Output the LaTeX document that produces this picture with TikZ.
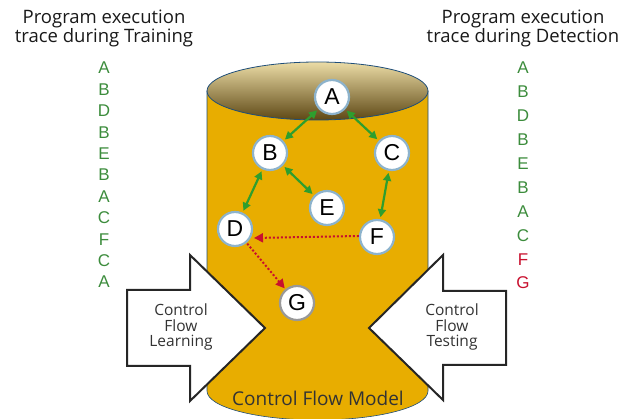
\documentclass[tikz,border=0pt]{standalone}
\usepackage{fontspec}
\setmainfont{Open Sans}
\newfontfamily\arialfont{Liberation Sans}
\usetikzlibrary{arrows.meta,shapes.geometric}
\definecolor{gold}{HTML}{E8AD00}
\definecolor{capTop}{HTML}{EBDCA6}
\definecolor{capBot}{HTML}{5E4815}
\definecolor{edgeblue}{HTML}{1F4E79}
\definecolor{nodeblue}{HTML}{8DB3CC}
\definecolor{tgreen}{HTML}{3C8C3C}
\definecolor{agreen}{HTML}{2E9E2E}
\definecolor{tred}{HTML}{C8102E}
\definecolor{txt}{HTML}{333333}
\begin{document}
\begin{tikzpicture}[x=1pt,y=-1pt,
  gnode/.style={circle,draw=nodeblue,line width=2.2pt,fill=white,minimum size=34pt,inner sep=0pt,font=\arialfont\fontsize{23}{23}\selectfont},
  garrow/.style={agreen,line width=2.2pt,{Triangle[length=8pt,width=8pt]}-{Triangle[length=8pt,width=8pt]},shorten <=2pt,shorten >=2pt},
  rarrow/.style={tred,line width=2pt,dotted,-{Triangle[length=9pt,width=9pt]},shorten >=1pt},
  bigarrow/.style={draw=black!85,line width=2pt,fill=white,line join=miter},
  title/.style={font=\fontsize{18.5}{19.5}\selectfont,align=center,text=black!90},
  trace/.style={font=\arialfont\fontsize{17}{17}\selectfont,inner sep=0pt},
  atext/.style={font=\fontsize{15.5}{15.7}\selectfont,align=center,text=txt}]
\useasboundingbox (0,0) rectangle (638,419);
% cylinder body
\fill[gold] (207,91) -- (207,391) arc[start angle=180,end angle=0,x radius=110.5,y radius=29] -- (428,91) -- cycle;
\draw[edgeblue,line width=0.6pt] (207,91) -- (207,391) arc[start angle=180,end angle=0,x radius=110.5,y radius=29] -- (428,91);
% top cap
\shade[top color=capTop,bottom color=capBot,draw=edgeblue,line width=0.8pt] (317.5,91) ellipse[x radius=110.5,y radius=29];
% nodes
\node[gnode] (A) at (332,97) {A};
\node[gnode] (B) at (270,153) {B};
\node[gnode] (C) at (392,153) {C};
\node[gnode] (E) at (327,208) {E};
\node[gnode] (D) at (235,229) {D};
\node[gnode] (F) at (377,237) {F};
\node[gnode,draw=black!40] (G) at (297,303) {G};
% green arrows
\draw[garrow] (A) -- (B);
\draw[garrow] (A) -- (C);
\draw[garrow] (B) -- (D);
\draw[garrow] (B) -- (E);
\draw[garrow] (C) -- (F);
% red dotted
\coordinate (Fw) at ([yshift=1pt]F.west);
\coordinate (Dhit) at (253,238);
\draw[rarrow] (Fw) -- (Dhit);
\draw[rarrow,shorten <=1pt] (D) -- (G);
% big arrows
\draw[bigarrow] (127,290) -- (190,290) -- (190,255) -- (265,328) -- (190,401) -- (190,366) -- (127,366) -- cycle;
\draw[bigarrow] (506,291) -- (443,291) -- (443,255) -- (369,328) -- (443,400) -- (443,365) -- (506,365) -- cycle;
\node[atext] (learn) at (181,327) {Control\\Flow\\Learning};
\node[atext] (test) at (452,327) {Control\\Flow\\Testing};
\node[font=\fontsize{19}{19}\selectfont,text=txt] (model) at (318,398) {Control Flow Model};
% titles
\node[title] (t1) at (104,28.5) {Program execution\\trace during Training};
\node[title] (t2) at (523,28.5) {Program execution\\trace during Detection};
% traces
\foreach \l [count=\i from 0] in {A,B,D,B,E,B,A,C,F,C,A}
  \node[trace,text=tgreen] (L\i) at (104,68+21.4*\i) {\l};
\foreach \l/\c [count=\i from 0] in {A/tgreen,B/tgreen,D/tgreen,B/tgreen,E/tgreen,B/tgreen,A/tgreen,C/tgreen,F/tred,G/tred}
  \node[trace,text=\c] (R\i) at (523,68+23.9*\i) {\l};
\end{tikzpicture}
\end{document}
